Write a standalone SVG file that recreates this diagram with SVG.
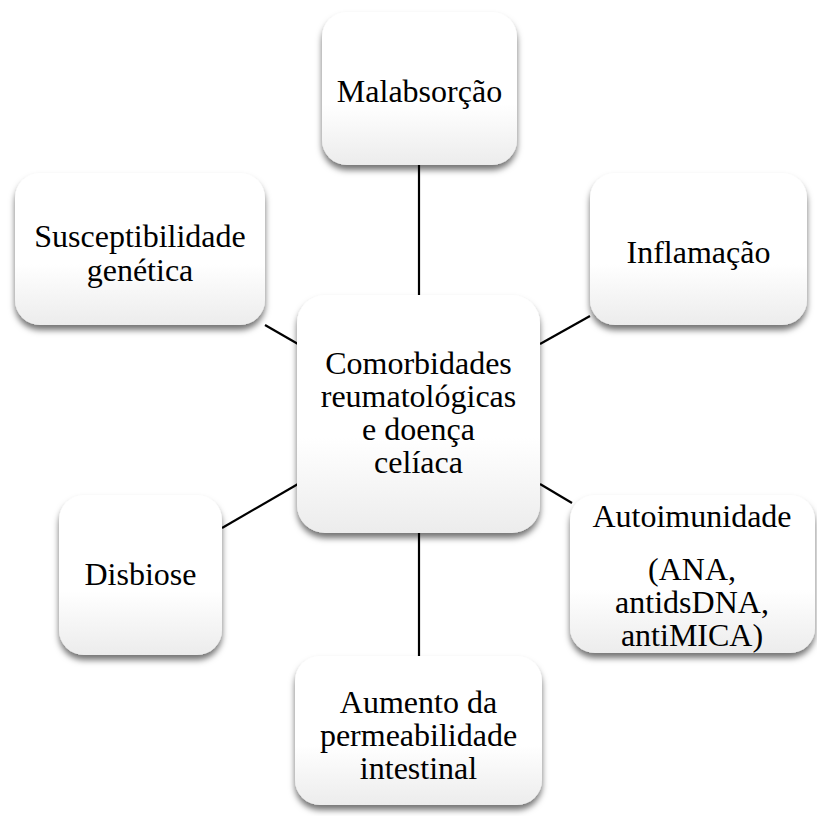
<svg xmlns="http://www.w3.org/2000/svg" width="817" height="816" viewBox="0 0 817 816">
<defs>
<linearGradient id="g" x1="0" y1="0" x2="0" y2="1">
<stop offset="0" stop-color="#ffffff"/>
<stop offset="0.6" stop-color="#ffffff"/>
<stop offset="1" stop-color="#ececec"/>
</linearGradient>
<filter id="sh" x="-10%" y="-10%" width="120%" height="125%">
<feDropShadow dx="0" dy="5" stdDeviation="3" flood-color="#000" flood-opacity="0.55"/>
</filter>
</defs>
<style>
.box{fill:url(#g);filter:url(#sh);}
.t{font-family:"Liberation Serif","Times New Roman",serif;font-size:32px;fill:#000;text-anchor:middle;}
.c{stroke:#000;stroke-width:2.2;fill:none;}
</style>
<rect width="817" height="816" fill="#fff"/>
<g id="connectors">
<line class="c" x1="419" y1="165" x2="419" y2="295"/>
<line class="c" x1="419" y1="533" x2="419" y2="656"/>
<line class="c" x1="265" y1="325" x2="298" y2="344"/>
<line class="c" x1="540" y1="344" x2="590" y2="316"/>
<line class="c" x1="222" y1="528" x2="298" y2="484"/>
<line class="c" x1="540" y1="484" x2="572" y2="503"/>
</g>
<g id="malabsorcao">
<rect class="box" x="322" y="12" width="195" height="153" rx="25"/>
<text class="t" x="419.5" y="102">Malabsorção</text>
</g>
<g id="susceptibilidade">
<rect class="box" x="15" y="173" width="250" height="152" rx="25"/>
<text class="t" x="140" y="247">Susceptibilidade</text>
<text class="t" x="140" y="281">genética</text>
</g>
<g id="inflamacao">
<rect class="box" x="590" y="173" width="217" height="152" rx="25"/>
<text class="t" x="698.5" y="263">Inflamação</text>
</g>
<g id="centro">
<rect class="box" x="297" y="295" width="243" height="238" rx="28"/>
<text class="t" x="418.5" y="374">Comorbidades</text>
<text class="t" x="418.5" y="407">reumatológicas</text>
<text class="t" x="418.5" y="440">e doença</text>
<text class="t" x="418.5" y="473">celíaca</text>
</g>
<g id="disbiose">
<rect class="box" x="59" y="495" width="163" height="160" rx="25"/>
<text class="t" x="140.5" y="585">Disbiose</text>
</g>
<g id="autoimunidade">
<rect class="box" x="570" y="495" width="245" height="158" rx="25"/>
<text class="t" x="692" y="527">Autoimunidade</text>
<text class="t" x="692" y="580">(ANA,</text>
<text class="t" x="692" y="613">antidsDNA,</text>
<text class="t" x="692" y="646">antiMICA)</text>
</g>
<g id="aumento">
<rect class="box" x="295" y="656" width="247" height="149" rx="25"/>
<text class="t" x="418.5" y="713">Aumento da</text>
<text class="t" x="418.5" y="746">permeabilidade</text>
<text class="t" x="418.5" y="779">intestinal</text>
</g>
</svg>
